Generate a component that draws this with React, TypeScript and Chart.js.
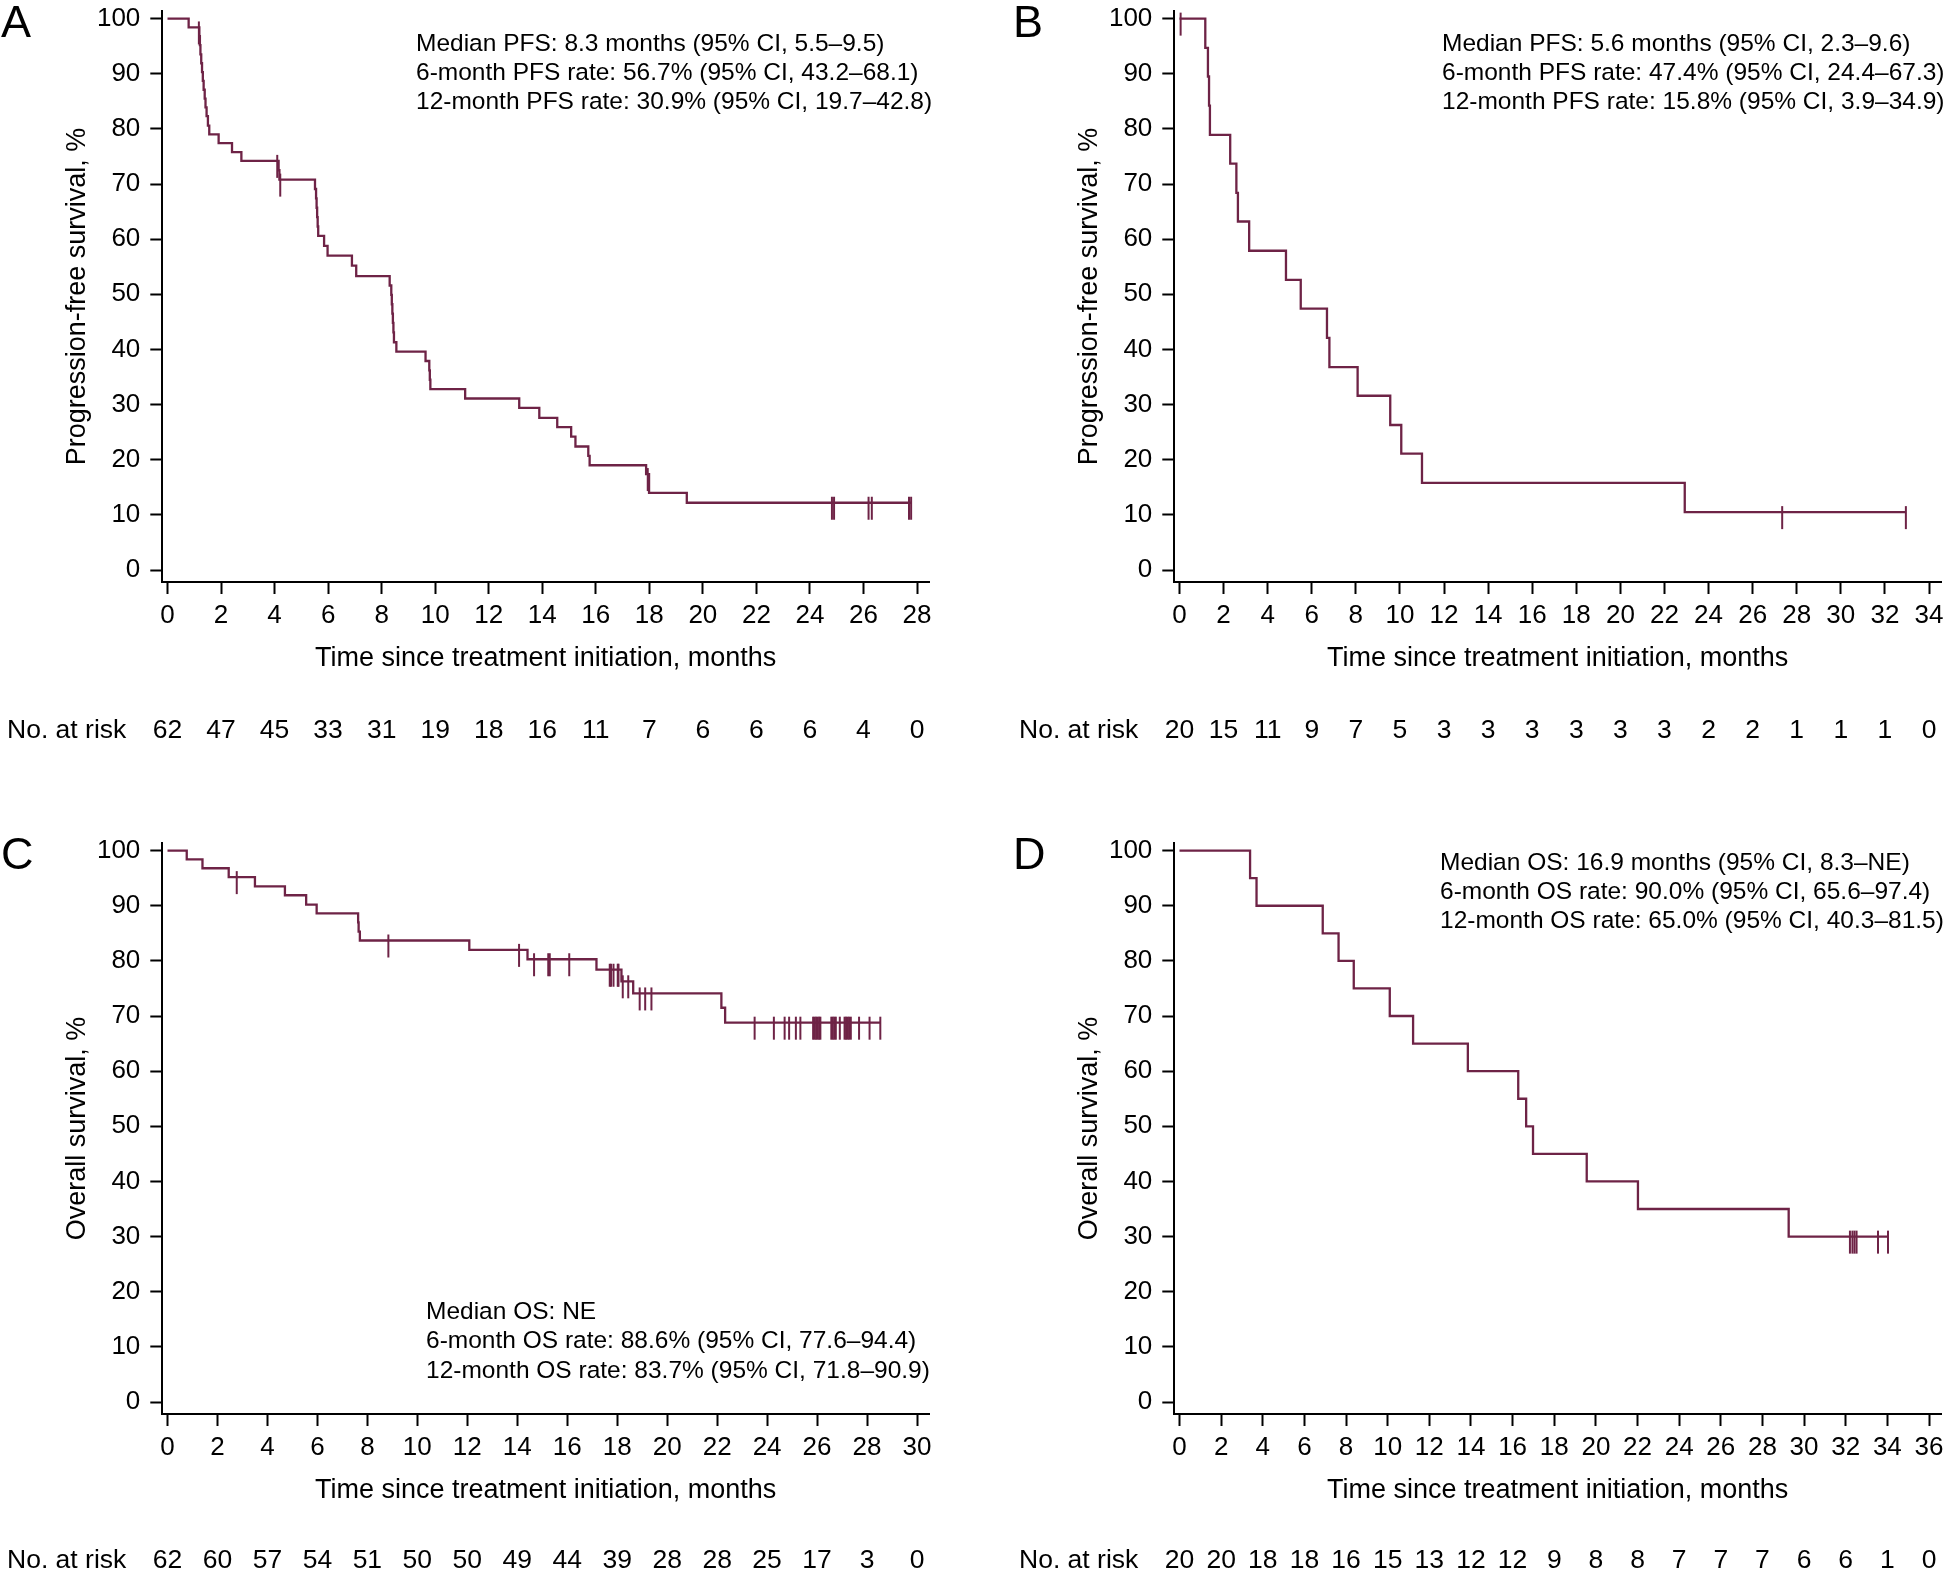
import React, { useEffect, useRef } from 'react';
import { Chart, registerables } from 'chart.js';

Chart.register(...registerables);

const FONT = '"Liberation Sans", Arial, Helvetica, sans-serif';
const CURVE = '#6e2346';

// ---------- Panel A: PFS (n = 62) ----------
const aTimes = [0, 0.79, 1.19, 1.21, 1.23, 1.26, 1.29, 1.32, 1.35, 1.39, 1.42, 1.46, 1.51, 1.56, 1.91, 2.41, 2.76, 4.15, 4.18, 5.51, 5.55, 5.57, 5.59, 5.61, 5.63, 5.85, 5.98, 6.89, 7.05, 8.3, 8.36, 8.38, 8.4, 8.42, 8.44, 8.46, 8.55, 9.64, 9.78, 9.8, 9.82, 11.12, 13.14, 13.89, 14.56, 15.08, 15.24, 15.72, 15.77, 17.88, 17.99, 19.4, 27.8];
const aSurv = [100, 98.4, 96.8, 95.2, 93.5, 91.9, 90.3, 88.7, 87.1, 85.5, 83.9, 82.3, 80.6, 79.0, 77.4, 75.8, 74.2, 72.5, 70.8, 69.1, 67.4, 65.7, 64.0, 62.3, 60.6, 58.8, 57.0, 55.2, 53.3, 51.6, 49.9, 48.2, 46.5, 44.8, 43.1, 41.3, 39.6, 37.9, 36.2, 34.5, 32.8, 31.1, 29.4, 27.6, 25.9, 24.2, 22.4, 20.7, 19.0, 17.4, 14.0, 12.2, 12.2];
const aCensorTimes = [1.17, 4.1, 4.21, 17.94, 24.82, 24.9, 26.19, 26.31, 27.7, 27.78];
const aCensorSurv = [98.4, 74.2, 70.8, 17.4, 12.2, 12.2, 12.2, 12.2, 12.2, 12.2];
const aTicks = [0, 2, 4, 6, 8, 10, 12, 14, 16, 18, 20, 22, 24, 26, 28];
const aAtRisk = [62, 47, 45, 33, 31, 19, 18, 16, 11, 7, 6, 6, 6, 4, 0];
const aNotes = [
  'Median PFS: 8.3 months (95% CI, 5.5–9.5)',
  '6-month PFS rate: 56.7% (95% CI, 43.2–68.1)',
  '12-month PFS rate: 30.9% (95% CI, 19.7–42.8)',
];

// ---------- Panel B: PFS (n = 20) ----------
const bTimes = [0, 1.17, 1.29, 1.34, 1.38, 2.3, 2.58, 2.65, 3.16, 4.83, 5.5, 6.69, 6.8, 8.08, 9.56, 10.06, 11.0, 22.92, 32.95];
const bSurv = [100, 94.7, 89.5, 84.2, 78.9, 73.7, 68.4, 63.2, 57.9, 52.6, 47.4, 42.1, 36.8, 31.6, 26.3, 21.1, 15.8, 10.5, 10.5];
const bCensorTimes = [0.05, 27.34, 32.95];
const bCensorSurv = [100, 10.5, 10.5];
const bTicks = [0, 2, 4, 6, 8, 10, 12, 14, 16, 18, 20, 22, 24, 26, 28, 30, 32, 34];
const bAtRisk = [20, 15, 11, 9, 7, 5, 3, 3, 3, 3, 3, 3, 2, 2, 1, 1, 1, 0];
const bNotes = [
  'Median PFS: 5.6 months (95% CI, 2.3–9.6)',
  '6-month PFS rate: 47.4% (95% CI, 24.4–67.3)',
  '12-month PFS rate: 15.8% (95% CI, 3.9–34.9)',
];

// ---------- Panel C: OS (n = 62) ----------
const cTimes = [0, 0.77, 1.4, 2.45, 3.5, 4.7, 5.55, 5.97, 7.63, 7.65, 7.7, 12.08, 14.41, 17.17, 18.17, 18.64, 22.17, 22.32, 28.53];
const cSurv = [100, 98.4, 96.8, 95.2, 93.5, 91.9, 90.2, 88.6, 87.0, 85.3, 83.7, 82.0, 80.3, 78.4, 76.3, 74.1, 71.5, 68.8, 68.8];
const cCensorTimes = [2.77, 8.84, 14.07, 14.67, 15.24, 15.3, 16.08, 17.7, 17.75, 17.85, 18.02, 18.05, 18.22, 18.44, 18.9, 19.12, 19.37, 23.5, 24.27, 24.7, 24.88, 25.15, 25.33, 25.84, 25.9, 25.96, 26.02, 26.08, 26.13, 26.57, 26.63, 26.69, 26.75, 26.91, 27.1, 27.16, 27.22, 27.28, 27.35, 27.68, 28.1, 28.53];
const cCensorSurv = [95.2, 83.7, 82.0, 80.3, 80.3, 80.3, 80.3, 78.4, 78.4, 78.4, 78.4, 78.4, 76.3, 76.3, 74.1, 74.1, 74.1, 68.8, 68.8, 68.8, 68.8, 68.8, 68.8, 68.8, 68.8, 68.8, 68.8, 68.8, 68.8, 68.8, 68.8, 68.8, 68.8, 68.8, 68.8, 68.8, 68.8, 68.8, 68.8, 68.8, 68.8, 68.8];
const cTicks = [0, 2, 4, 6, 8, 10, 12, 14, 16, 18, 20, 22, 24, 26, 28, 30];
const cAtRisk = [62, 60, 57, 54, 51, 50, 50, 49, 44, 39, 28, 28, 25, 17, 3, 0];
const cNotes = [
  'Median OS: NE',
  '6-month OS rate: 88.6% (95% CI, 77.6–94.4)',
  '12-month OS rate: 83.7% (95% CI, 71.8–90.9)',
];

// ---------- Panel D: OS (n = 20) ----------
const dTimes = [0, 3.39, 3.7, 6.88, 7.64, 8.37, 10.1, 11.22, 13.85, 16.27, 16.65, 16.98, 19.56, 22.02, 29.26, 34.03];
const dSurv = [100, 95, 90, 85, 80, 75, 70, 65, 60, 55, 50, 45, 40, 35, 30, 30];
const dCensorTimes = [32.2, 32.32, 32.42, 32.52, 33.55, 34.03];
const dCensorSurv = [30, 30, 30, 30, 30, 30];
const dTicks = [0, 2, 4, 6, 8, 10, 12, 14, 16, 18, 20, 22, 24, 26, 28, 30, 32, 34, 36];
const dAtRisk = [20, 20, 18, 18, 16, 15, 13, 12, 12, 9, 8, 8, 7, 7, 7, 6, 6, 1, 0];
const dNotes = [
  'Median OS: 16.9 months (95% CI, 8.3–NE)',
  '6-month OS rate: 90.0% (95% CI, 65.6–97.4)',
  '12-month OS rate: 65.0% (95% CI, 40.3–81.5)',
];

const yTicks = [0, 10, 20, 30, 40, 50, 60, 70, 80, 90, 100];
const X_TITLE = 'Time since treatment initiation, months';

// layout geometry (canvas pixels)
const G = { yAxisX: 162.3, areaTop: 11, areaBottom: 582, x0: 167.5, xEnd: 917, y100: 18.6, y0: 570, xOver: 12, xScaleH: 93.2 };

type Panel = {
  letter: string; left: number; top: number; w: number; h: number;
  times: number[]; surv: number[]; cT: number[]; cS: number[];
  ticks: number[]; risk: number[]; notes: string[]; noteX: number; noteY: number[];
  yTitle: string; riskY: number;
};

const panels: Panel[] = [
  { letter: 'A', left: 0, top: 0, w: 1012, h: 800, times: aTimes, surv: aSurv, cT: aCensorTimes, cS: aCensorSurv, ticks: aTicks, risk: aAtRisk, notes: aNotes, noteX: 416, noteY: [44, 73, 102], yTitle: 'Progression-free survival, %', riskY: 731 },
  { letter: 'B', left: 1012, top: 0, w: 934, h: 800, times: bTimes, surv: bSurv, cT: bCensorTimes, cS: bCensorSurv, ticks: bTicks, risk: bAtRisk, notes: bNotes, noteX: 430, noteY: [44, 73, 102], yTitle: 'Progression-free survival, %', riskY: 731 },
  { letter: 'C', left: 0, top: 832, w: 1012, h: 739, times: cTimes, surv: cSurv, cT: cCensorTimes, cS: cCensorSurv, ticks: cTicks, risk: cAtRisk, notes: cNotes, noteX: 426, noteY: [480, 509.5, 539], yTitle: 'Overall survival, %', riskY: 729 },
  { letter: 'D', left: 1012, top: 832, w: 934, h: 739, times: dTimes, surv: dSurv, cT: dCensorTimes, cS: dCensorSurv, ticks: dTicks, risk: dAtRisk, notes: dNotes, noteX: 428, noteY: [31, 60, 89], yTitle: 'Overall survival, %', riskY: 729 },
];

function makeCensorMark(): HTMLCanvasElement {
  const c = document.createElement('canvas');
  c.width = 4;
  c.height = 46;
  const ctx = c.getContext('2d')!;
  ctx.strokeStyle = CURVE;
  ctx.lineWidth = 2;
  ctx.beginPath();
  ctx.moveTo(2, 23 - 6);
  ctx.lineTo(2, 23 + 17);
  ctx.stroke();
  return c;
}

function KMPanel({ p }: { p: Panel }) {
  const ref = useRef<HTMLCanvasElement>(null);
  useEffect(() => {
    const canvas = ref.current!;
    const n = p.ticks[p.ticks.length - 1];
    const ppm = (G.xEnd - G.x0) / n;
    const xMin = -(G.x0 - G.yAxisX) / ppm;
    const xMax = n + G.xOver / ppm;
    const right = G.xEnd + G.xOver;
    const ppp = (G.y0 - G.y100) / 100;
    const yMax = 100 + (G.y100 - G.areaTop) / ppp;
    const yMin = -(G.areaBottom - G.y0) / ppp;
    const mark = makeCensorMark();

    const textPlugin = {
      id: 'kmText',
      afterDraw(chart: any) {
        const ctx = chart.ctx as CanvasRenderingContext2D;
        const xs = chart.scales.x;
        ctx.save();
        ctx.fillStyle = '#000';
        ctx.textAlign = 'left';
        ctx.textBaseline = 'alphabetic';
        ctx.font = `45px ${FONT}`;
        ctx.fillText(p.letter, 1, 37);
        ctx.font = `24.5px ${FONT}`;
        ctx.textBaseline = 'middle';
        p.notes.forEach((t, i) => ctx.fillText(t, p.noteX, p.noteY[i]));
        ctx.font = `26.5px ${FONT}`;
        ctx.fillText('No. at risk', 7, p.riskY);
        ctx.textAlign = 'center';
        p.risk.forEach((v, i) => ctx.fillText(String(v), xs.getPixelForValue(p.ticks[i]), p.riskY));
        ctx.restore();
      },
    };

    const chart = new Chart(canvas, {
      type: 'line',
      data: {
        datasets: [
          {
            data: p.times.map((t, i) => ({ x: t, y: p.surv[i] })),
            stepped: 'before',
            borderColor: CURVE,
            borderWidth: 2.3,
            pointRadius: 0,
            fill: false,
            tension: 0,
            clip: false,
          } as any,
          {
            data: p.cT.map((t, i) => ({ x: t, y: p.cS[i] })),
            showLine: false,
            pointStyle: mark,
            pointRadius: 4,
            pointHoverRadius: 4,
            borderColor: CURVE,
            backgroundColor: CURVE,
            clip: false,
          } as any,
        ],
      },
      options: {
        responsive: false,
        animation: false,
        events: [],
        layout: { padding: { left: 0, top: G.areaTop, right: p.w - right, bottom: p.h - G.areaBottom - G.xScaleH } },
        plugins: { legend: { display: false }, tooltip: { enabled: false } },
        scales: {
          x: {
            type: 'linear',
            position: 'bottom',
            min: xMin,
            max: xMax,
            border: { display: true, color: '#000', width: 2 },
            grid: { display: true, drawOnChartArea: false, drawTicks: true, tickLength: 12, tickColor: '#000', tickWidth: 2 } as any,
            ticks: { color: '#000', font: { family: FONT, size: 26 }, padding: 6, autoSkip: false, maxRotation: 0, callback: (v: any) => String(v) },
            title: { display: true, text: X_TITLE, color: '#000', font: { family: FONT, size: 27 }, padding: { top: 0, bottom: 0 } },
            afterBuildTicks: (s: any) => { s.ticks = p.ticks.map((v) => ({ value: v })); },
            afterFit: (s: any) => { s.height = G.xScaleH; s.paddingLeft = 0; s.paddingRight = 0; },
          },
          y: {
            type: 'linear',
            position: 'left',
            min: yMin,
            max: yMax,
            border: { display: true, color: '#000', width: 2 },
            grid: { display: true, drawOnChartArea: false, drawTicks: true, tickLength: 12, tickColor: '#000', tickWidth: 2 } as any,
            ticks: { color: '#000', font: { family: FONT, size: 26 }, padding: 10, autoSkip: false, callback: (v: any) => String(v) },
            title: { display: true, text: p.yTitle, color: '#000', font: { family: FONT, size: 27 }, padding: { top: 61, bottom: 0 } },
            afterBuildTicks: (s: any) => { s.ticks = yTicks.map((v) => ({ value: v })); },
            afterFit: (s: any) => { s.width = G.yAxisX; s.paddingTop = 0; s.paddingBottom = 0; },
          },
        },
      } as any,
      plugins: [textPlugin],
    });
    return () => chart.destroy();
  }, [p]);
  return (
    <canvas
      ref={ref}
      width={p.w}
      height={p.h}
      style={{ position: 'absolute', left: p.left, top: p.top, width: p.w, height: p.h, display: 'block' }}
    />
  );
}

export default function App() {
  return (
    <div style={{ position: 'absolute', left: 0, top: 0, width: 1946, height: 1571, background: '#fff', overflow: 'hidden' }}>
      {panels.map((p) => (
        <KMPanel key={p.letter} p={p} />
      ))}
    </div>
  );
}
